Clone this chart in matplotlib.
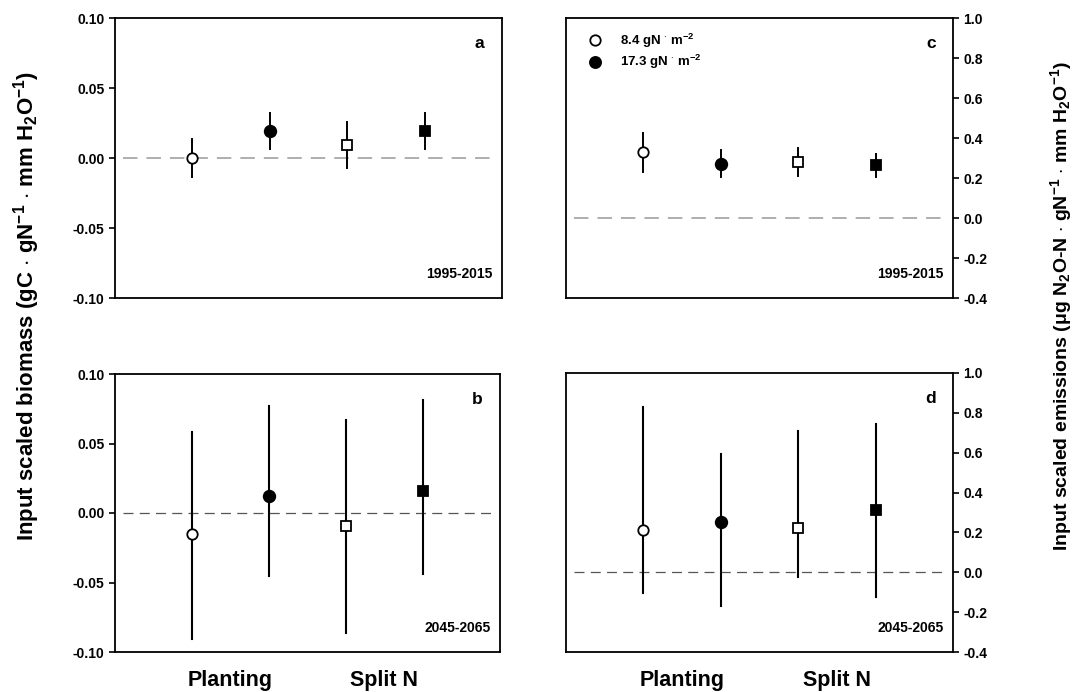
import matplotlib
matplotlib.use("Agg")
import matplotlib.pyplot as plt
from matplotlib.lines import Line2D

plt.rcParams["font.family"] = ["Liberation Sans", "DejaVu Sans"]
plt.rcParams["font.weight"] = "bold"
plt.rcParams["mathtext.fontset"] = "custom"
plt.rcParams["mathtext.rm"] = "Liberation Sans:bold"
plt.rcParams["mathtext.bf"] = "Liberation Sans:bold"
plt.rcParams["mathtext.it"] = "Liberation Sans:bold"
plt.rcParams["mathtext.default"] = "bf"

# posiciones: planting (8.4, 17.3), split N (8.4, 17.3)
xpos = [1, 2, 3, 4]
markers = ["o", "o", "s", "s"]
faces = ["white", "black", "white", "black"]
grupos = ["Planting", "Split N"]
grupos_x = [1.5, 3.5]

# a: biomasa 1995-2015
a_mean = [0.000, 0.019, 0.0095, 0.019]
a_lo = [-0.0138, 0.0062, -0.0071, 0.0067]
a_hi = [0.0135, 0.032, 0.0259, 0.0318]
# b: biomasa 2045-2065
b_mean = [-0.0152, 0.0119, -0.0097, 0.0159]
b_lo = [-0.0904, -0.0456, -0.0866, -0.0442]
b_hi = [0.058, 0.0772, 0.0667, 0.081]
# c: emisiones 1995-2015
c_mean = [0.33, 0.272, 0.282, 0.263]
c_lo = [0.23, 0.203, 0.208, 0.203]
c_hi = [0.425, 0.338, 0.352, 0.322]
# d: emisiones 2045-2065
d_mean = [0.214, 0.254, 0.224, 0.313]
d_lo = [-0.104, -0.167, -0.025, -0.125]
d_hi = [0.829, 0.592, 0.709, 0.746]

W, H = 1081, 692
fig = plt.figure(figsize=(W / 100, H / 100), dpi=100)


def eje(x0, y0, x1, y1):
    return fig.add_axes([x0 / W, 1 - y1 / H, (x1 - x0) / W, (y1 - y0) / H])


def panel(ax, mean, lo, hi, letra, periodo, derecha, dash_col, dash_lw, err_lw):
    ax.axhline(0, xmin=0.02, xmax=0.98, color=dash_col, lw=dash_lw,
               dashes=(8, 5), zorder=1)
    for i in range(4):
        ax.plot([xpos[i], xpos[i]], [lo[i], hi[i]], color="black", lw=err_lw, zorder=2)
        ms = 7.5 if markers[i] == "o" else 6.5
        if faces[i] == "black":
            ms += 0.8
        ax.plot(xpos[i], mean[i], marker=markers[i], ms=ms, mfc=faces[i],
                mec="black", mew=1.3, zorder=3, ls="none")
    ax.set_xlim(0, 5)
    for s in ax.spines.values():
        s.set_linewidth(1.3)
    ax.text(0.955, 0.91, letra, transform=ax.transAxes, ha="right", va="center",
            fontsize=12.5, fontweight="bold")
    ax.text(0.975, 0.085, periodo, transform=ax.transAxes, ha="right", va="center",
            fontsize=10, fontweight="bold")
    ax.tick_params(axis="x", length=0, labelsize=15.5, pad=13)
    ax.tick_params(axis="y", direction="out", length=4, width=1.2, labelsize=10)
    if derecha:
        ax.yaxis.tick_right()
    for lab in ax.get_yticklabels():
        lab.set_fontweight("bold")


ax_a = eje(115, 18, 502, 298)
ax_b = eje(115, 374, 500, 652)
ax_c = eje(566, 18, 953, 298)
ax_d = eje(566, 373, 953, 652)

bio_ticks = [-0.10, -0.05, 0.00, 0.05, 0.10]
emi_ticks = [-0.4, -0.2, 0.0, 0.2, 0.4, 0.6, 0.8, 1.0]

for ax in (ax_a, ax_b):
    ax.set_ylim(-0.10, 0.10)
    ax.set_yticks(bio_ticks)
    ax.set_yticklabels([f"{t:.2f}" for t in bio_ticks])
for ax in (ax_c, ax_d):
    ax.set_ylim(-0.4, 1.0)
    ax.set_yticks(emi_ticks)
    ax.set_yticklabels([f"{t:.1f}" for t in emi_ticks])

panel(ax_a, a_mean, a_lo, a_hi, "a", "1995-2015", False, "#a8a8a8", 1.3, 1.4)
panel(ax_b, b_mean, b_lo, b_hi, "b", "2045-2065", False, "#555555", 0.9, 1.5)
panel(ax_c, c_mean, c_lo, c_hi, "c", "1995-2015", True, "#a8a8a8", 1.3, 1.4)
panel(ax_d, d_mean, d_lo, d_hi, "d", "2045-2065", True, "#555555", 0.9, 1.5)

for ax in (ax_a, ax_c):
    ax.set_xticks([])
for ax in (ax_b, ax_d):
    ax.set_xticks(grupos_x)
    ax.set_xticklabels(grupos, fontweight="bold")

# leyenda del panel c
h1 = Line2D([], [], marker="o", ls="none", mfc="white", mec="black", mew=1.3, ms=7.5)
h2 = Line2D([], [], marker="o", ls="none", mfc="black", mec="black", mew=1.3, ms=8)
ax_c.legend([h1, h2], [r"8.4 gN $^{\cdot}$ m$^{-2}$", r"17.3 gN $^{\cdot}$ m$^{-2}$"],
            loc="upper left", bbox_to_anchor=(0.02, 0.98), frameon=False,
            fontsize=9.5, handletextpad=0.9, labelspacing=0.25, borderaxespad=0.2)

fig.text(0.025, 0.558, r"Input scaled biomass (gC $\cdot$ gN$^{-1}$ $\cdot$ mm H$_2$O$^{-1}$)",
         rotation=90, ha="center", va="center", fontsize=16, fontweight="bold")
fig.text(0.982, 0.558,
         r"Input scaled emissions ($\mu$g N$_2$O-N $\cdot$ gN$^{-1}$ $\cdot$ mm H$_2$O$^{-1}$)",
         rotation=90, ha="center", va="center", fontsize=14, fontweight="bold")

fig.savefig("out.png", dpi=100)
